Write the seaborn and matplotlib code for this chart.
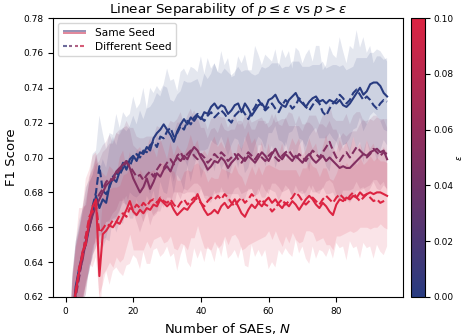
import numpy as np
import pandas as pd
import matplotlib
matplotlib.use("Agg")
import matplotlib.pyplot as plt
from matplotlib.colors import LinearSegmentedColormap, Normalize
from matplotlib.cm import ScalarMappable
from matplotlib.collections import LineCollection
from matplotlib.legend_handler import HandlerBase
from matplotlib.lines import Line2D
import seaborn as sns

# ---------------------------------------------------------------- data
n_saes = list(range(1, 96))
eps_levels = [0.0, 0.05, 0.10]

f1_same_eps000 = [
    0.560, 0.605, 0.626, 0.636, 0.645, 0.650, 0.660, 0.668, 0.678, 0.671,
    0.676, 0.674, 0.684, 0.688, 0.686, 0.692, 0.697, 0.693, 0.699, 0.701,
    0.698, 0.703, 0.702, 0.706, 0.704, 0.711, 0.714, 0.716, 0.719, 0.716,
    0.713, 0.709, 0.715, 0.719, 0.722, 0.719, 0.723, 0.721, 0.724, 0.722,
    0.726, 0.725, 0.729, 0.731, 0.728, 0.730, 0.729, 0.725, 0.727, 0.730,
    0.731, 0.726, 0.731, 0.728, 0.724, 0.727, 0.730, 0.731, 0.728, 0.733,
    0.734, 0.736, 0.732, 0.730, 0.729, 0.733, 0.735, 0.737, 0.733, 0.731,
    0.729, 0.732, 0.734, 0.735, 0.732, 0.733, 0.731, 0.733, 0.732, 0.731,
    0.733, 0.730, 0.729, 0.731, 0.734, 0.737, 0.740, 0.736, 0.738, 0.742,
    0.743, 0.743, 0.741, 0.737, 0.735]
f1_diff_eps000 = [
    0.555, 0.600, 0.623, 0.632, 0.644, 0.652, 0.662, 0.672, 0.680, 0.695,
    0.681, 0.679, 0.683, 0.689, 0.691, 0.690, 0.694, 0.698, 0.695, 0.700,
    0.702, 0.700, 0.704, 0.703, 0.707, 0.709, 0.706, 0.712, 0.711, 0.715,
    0.717, 0.712, 0.714, 0.718, 0.716, 0.721, 0.719, 0.723, 0.725, 0.723,
    0.721, 0.724, 0.726, 0.723, 0.725, 0.727, 0.725, 0.722, 0.720, 0.724,
    0.726, 0.728, 0.725, 0.722, 0.726, 0.729, 0.733, 0.730, 0.727, 0.729,
    0.731, 0.728, 0.726, 0.730, 0.733, 0.731, 0.728, 0.730, 0.734, 0.732,
    0.729, 0.727, 0.730, 0.733, 0.731, 0.726, 0.724, 0.728, 0.731, 0.733,
    0.736, 0.734, 0.731, 0.733, 0.737, 0.739, 0.736, 0.733, 0.735, 0.733,
    0.730, 0.728, 0.731, 0.733, 0.732]
f1_same_eps005 = [
    0.558, 0.603, 0.622, 0.634, 0.641, 0.652, 0.660, 0.667, 0.672, 0.676,
    0.680, 0.684, 0.686, 0.688, 0.692, 0.694, 0.696, 0.698, 0.694, 0.688,
    0.684, 0.680, 0.683, 0.688, 0.682, 0.686, 0.691, 0.689, 0.693, 0.695,
    0.692, 0.697, 0.700, 0.698, 0.701, 0.699, 0.703, 0.706, 0.704, 0.700,
    0.697, 0.693, 0.695, 0.698, 0.697, 0.700, 0.698, 0.694, 0.697, 0.699,
    0.702, 0.700, 0.698, 0.701, 0.699, 0.697, 0.700, 0.703, 0.701, 0.698,
    0.702, 0.705, 0.701, 0.699, 0.702, 0.700, 0.698, 0.701, 0.699, 0.697,
    0.700, 0.702, 0.699, 0.697, 0.699, 0.701, 0.698, 0.700, 0.698, 0.696,
    0.694, 0.695, 0.694, 0.694, 0.696, 0.698, 0.700, 0.702, 0.701, 0.703,
    0.704, 0.705, 0.703, 0.704, 0.699]
f1_diff_eps005 = [
    0.552, 0.598, 0.620, 0.631, 0.643, 0.655, 0.662, 0.669, 0.675, 0.679,
    0.682, 0.686, 0.688, 0.687, 0.690, 0.693, 0.695, 0.697, 0.695, 0.692,
    0.689, 0.690, 0.687, 0.690, 0.692, 0.689, 0.693, 0.696, 0.694, 0.697,
    0.699, 0.696, 0.701, 0.703, 0.699, 0.702, 0.704, 0.701, 0.699, 0.702,
    0.700, 0.697, 0.699, 0.702, 0.700, 0.703, 0.701, 0.698, 0.700, 0.702,
    0.699, 0.697, 0.700, 0.703, 0.701, 0.699, 0.702, 0.700, 0.698, 0.701,
    0.703, 0.700, 0.698, 0.701, 0.703, 0.704, 0.701, 0.699, 0.702, 0.700,
    0.698, 0.701, 0.704, 0.702, 0.700, 0.703, 0.706, 0.709, 0.704, 0.700,
    0.698, 0.701, 0.703, 0.700, 0.703, 0.706, 0.704, 0.702, 0.700, 0.702,
    0.705, 0.703, 0.701, 0.703, 0.702]
f1_same_eps010 = [
    0.560, 0.606, 0.624, 0.634, 0.646, 0.650, 0.664, 0.672, 0.676, 0.632,
    0.656, 0.658, 0.661, 0.660, 0.663, 0.662, 0.666, 0.670, 0.675, 0.669,
    0.667, 0.670, 0.668, 0.671, 0.670, 0.673, 0.672, 0.676, 0.674, 0.672,
    0.674, 0.670, 0.667, 0.669, 0.671, 0.670, 0.673, 0.675, 0.679, 0.674,
    0.670, 0.667, 0.668, 0.670, 0.668, 0.672, 0.674, 0.671, 0.673, 0.676,
    0.672, 0.668, 0.666, 0.670, 0.673, 0.671, 0.674, 0.672, 0.675, 0.677,
    0.674, 0.676, 0.673, 0.671, 0.674, 0.672, 0.675, 0.673, 0.670, 0.673,
    0.676, 0.678, 0.676, 0.673, 0.671, 0.674, 0.672, 0.669, 0.667, 0.673,
    0.676, 0.675, 0.677, 0.676, 0.678, 0.677, 0.680, 0.678, 0.679, 0.680,
    0.679, 0.680, 0.680, 0.679, 0.678]
f1_diff_eps010 = [
    0.555, 0.602, 0.621, 0.637, 0.643, 0.655, 0.666, 0.669, 0.673, 0.657,
    0.659, 0.662, 0.661, 0.664, 0.663, 0.667, 0.668, 0.666, 0.671, 0.670,
    0.673, 0.671, 0.674, 0.672, 0.675, 0.676, 0.674, 0.677, 0.675, 0.674,
    0.676, 0.673, 0.671, 0.674, 0.676, 0.673, 0.675, 0.677, 0.676, 0.674,
    0.672, 0.675, 0.677, 0.676, 0.678, 0.676, 0.679, 0.677, 0.674, 0.672,
    0.675, 0.677, 0.674, 0.676, 0.679, 0.677, 0.674, 0.676, 0.673, 0.672,
    0.669, 0.671, 0.674, 0.676, 0.673, 0.675, 0.677, 0.680, 0.678, 0.675,
    0.673, 0.675, 0.677, 0.675, 0.673, 0.676, 0.678, 0.676, 0.674, 0.677,
    0.679, 0.677, 0.675, 0.678, 0.680, 0.677, 0.675, 0.677, 0.679, 0.677,
    0.675, 0.676, 0.674, 0.675, 0.676]

# standard deviation across runs (shaded bands)
sd_same_eps000 = [
    0.030, 0.028, 0.026, 0.024, 0.025, 0.023, 0.026, 0.022, 0.024, 0.021,
    0.023, 0.020, 0.022, 0.024, 0.021, 0.023, 0.020, 0.022, 0.019, 0.023,
    0.021, 0.024, 0.020, 0.022, 0.025, 0.021, 0.023, 0.019, 0.022, 0.024,
    0.020, 0.023, 0.021, 0.019, 0.022, 0.024, 0.020, 0.023, 0.021, 0.018,
    0.022, 0.020, 0.019, 0.023, 0.021, 0.018, 0.022, 0.024, 0.020, 0.019,
    0.021, 0.023, 0.019, 0.022, 0.024, 0.020, 0.018, 0.021, 0.023, 0.019,
    0.020, 0.018, 0.022, 0.021, 0.023, 0.019, 0.020, 0.018, 0.022, 0.021,
    0.023, 0.020, 0.019, 0.018, 0.021, 0.022, 0.020, 0.019, 0.021, 0.022,
    0.019, 0.023, 0.021, 0.020, 0.018, 0.020, 0.017, 0.021, 0.019, 0.018,
    0.017, 0.019, 0.020, 0.021, 0.020]
sd_diff_eps000 = [
    0.034, 0.030, 0.028, 0.032, 0.026, 0.031, 0.025, 0.030, 0.024, 0.029,
    0.033, 0.026, 0.031, 0.024, 0.034, 0.027, 0.032, 0.025, 0.030, 0.035,
    0.026, 0.031, 0.036, 0.025, 0.033, 0.028, 0.035, 0.026, 0.031, 0.036,
    0.027, 0.033, 0.024, 0.031, 0.035, 0.026, 0.033, 0.028, 0.024, 0.035,
    0.027, 0.033, 0.025, 0.031, 0.024, 0.034, 0.028, 0.035, 0.026, 0.023,
    0.032, 0.026, 0.034, 0.028, 0.024, 0.035, 0.026, 0.023, 0.032, 0.028,
    0.024, 0.034, 0.026, 0.032, 0.024, 0.030, 0.023, 0.033, 0.027, 0.022,
    0.030, 0.035, 0.025, 0.031, 0.033, 0.024, 0.029, 0.036, 0.028, 0.024,
    0.033, 0.027, 0.023, 0.031, 0.025, 0.034, 0.027, 0.036, 0.025, 0.031,
    0.024, 0.030, 0.027, 0.023, 0.025]
sd_same_eps005 = [
    0.030, 0.028, 0.027, 0.025, 0.026, 0.024, 0.025, 0.023, 0.024, 0.022,
    0.023, 0.021, 0.022, 0.020, 0.022, 0.019, 0.021, 0.020, 0.022, 0.019,
    0.021, 0.023, 0.020, 0.018, 0.021, 0.019, 0.022, 0.020, 0.018, 0.021,
    0.019, 0.017, 0.020, 0.022, 0.019, 0.018, 0.020, 0.021, 0.019, 0.017,
    0.020, 0.018, 0.021, 0.019, 0.017, 0.020, 0.018, 0.021, 0.019, 0.017,
    0.019, 0.021, 0.018, 0.020, 0.017, 0.019, 0.021, 0.018, 0.020, 0.019,
    0.017, 0.020, 0.018, 0.019, 0.021, 0.018, 0.020, 0.017, 0.019, 0.018,
    0.020, 0.018, 0.019, 0.017, 0.020, 0.018, 0.019, 0.021, 0.018, 0.020,
    0.017, 0.019, 0.018, 0.020, 0.019, 0.017, 0.019, 0.020, 0.018, 0.019,
    0.017, 0.018, 0.019, 0.018, 0.018]
sd_diff_eps005 = [
    0.032, 0.030, 0.029, 0.027, 0.028, 0.026, 0.027, 0.025, 0.026, 0.024,
    0.025, 0.023, 0.025, 0.022, 0.024, 0.023, 0.021, 0.024, 0.022, 0.025,
    0.023, 0.021, 0.024, 0.022, 0.020, 0.023, 0.025, 0.021, 0.023, 0.020,
    0.022, 0.024, 0.021, 0.023, 0.020, 0.022, 0.024, 0.021, 0.023, 0.020,
    0.022, 0.019, 0.023, 0.021, 0.024, 0.020, 0.022, 0.019, 0.021, 0.023,
    0.020, 0.022, 0.024, 0.021, 0.019, 0.022, 0.020, 0.023, 0.021, 0.019,
    0.022, 0.020, 0.023, 0.021, 0.019, 0.022, 0.024, 0.020, 0.022, 0.019,
    0.021, 0.023, 0.020, 0.022, 0.019, 0.021, 0.020, 0.022, 0.019, 0.021,
    0.023, 0.020, 0.022, 0.019, 0.021, 0.020, 0.022, 0.019, 0.021, 0.020,
    0.019, 0.021, 0.020, 0.019, 0.020]
sd_same_eps010 = [
    0.028, 0.026, 0.025, 0.024, 0.026, 0.023, 0.025, 0.022, 0.024, 0.021,
    0.023, 0.022, 0.021, 0.023, 0.020, 0.022, 0.024, 0.021, 0.019, 0.022,
    0.020, 0.023, 0.021, 0.019, 0.022, 0.020, 0.018, 0.021, 0.023, 0.020,
    0.019, 0.022, 0.020, 0.018, 0.021, 0.023, 0.019, 0.021, 0.018, 0.020,
    0.022, 0.019, 0.021, 0.018, 0.020, 0.022, 0.019, 0.021, 0.018, 0.020,
    0.019, 0.021, 0.018, 0.020, 0.022, 0.019, 0.021, 0.018, 0.020, 0.019,
    0.021, 0.018, 0.020, 0.022, 0.019, 0.021, 0.018, 0.020, 0.019, 0.021,
    0.018, 0.020, 0.019, 0.021, 0.018, 0.020, 0.022, 0.019, 0.020, 0.018,
    0.021, 0.019, 0.020, 0.018, 0.021, 0.019, 0.020, 0.018, 0.019, 0.021,
    0.019, 0.020, 0.018, 0.019, 0.019]
sd_diff_eps010 = [
    0.034, 0.031, 0.030, 0.034, 0.028, 0.033, 0.027, 0.032, 0.030, 0.036,
    0.032, 0.027, 0.034, 0.029, 0.026, 0.033, 0.036, 0.028, 0.032, 0.026,
    0.031, 0.035, 0.028, 0.033, 0.036, 0.029, 0.026, 0.034, 0.030, 0.025,
    0.033, 0.028, 0.036, 0.030, 0.026, 0.033, 0.038, 0.029, 0.034, 0.027,
    0.032, 0.026, 0.031, 0.036, 0.028, 0.033, 0.026, 0.035, 0.030, 0.025,
    0.033, 0.028, 0.036, 0.039, 0.029, 0.034, 0.027, 0.033, 0.026, 0.036,
    0.029, 0.034, 0.027, 0.032, 0.025, 0.030, 0.034, 0.027, 0.033, 0.026,
    0.031, 0.036, 0.028, 0.033, 0.026, 0.030, 0.035, 0.028, 0.032, 0.026,
    0.031, 0.028, 0.034, 0.026, 0.032, 0.028, 0.033, 0.026, 0.031, 0.028,
    0.033, 0.026, 0.028, 0.031, 0.027]

seed_labels = ["Same Seed", "Different Seed"]

means = {
    (0.0, "Same Seed"): f1_same_eps000, (0.0, "Different Seed"): f1_diff_eps000,
    (0.05, "Same Seed"): f1_same_eps005, (0.05, "Different Seed"): f1_diff_eps005,
    (0.10, "Same Seed"): f1_same_eps010, (0.10, "Different Seed"): f1_diff_eps010,
}
spreads = {
    (0.0, "Same Seed"): sd_same_eps000, (0.0, "Different Seed"): sd_diff_eps000,
    (0.05, "Same Seed"): sd_same_eps005, (0.05, "Different Seed"): sd_diff_eps005,
    (0.10, "Same Seed"): sd_same_eps010, (0.10, "Different Seed"): sd_diff_eps010,
}

# ---------------------------------------------------------------- style
cmap = LinearSegmentedColormap.from_list("eps_map", ["#283b80", "#dc2442"])
norm = Normalize(vmin=0.0, vmax=0.10)

rows = []
for (eps, seed), vals in means.items():
    for n, v, s in zip(n_saes, vals, spreads[(eps, seed)]):
        rows.append({"N": n, "F1": v, "sd": s, "eps": eps, "seed": seed})
df = pd.DataFrame(rows)

fig = plt.figure(figsize=(4.64, 3.36), dpi=100)
ax = fig.add_axes([53 / 464, 1 - 297 / 336, 350 / 464, 279 / 336])
cax = fig.add_axes([411 / 464, 1 - 297 / 336, 14 / 464, 279 / 336])

# shaded +/- one standard deviation
for (eps, seed), grp in df.groupby(["eps", "seed"], sort=False):
    ax.fill_between(grp["N"], grp["F1"] - grp["sd"], grp["F1"] + grp["sd"],
                    color=cmap(norm(eps)), alpha=0.12, lw=0, zorder=1)

palette = {eps: cmap(norm(eps)) for eps in eps_levels}
sns.lineplot(data=df, x="N", y="F1", hue="eps", style="seed",
             hue_order=eps_levels, style_order=seed_labels,
             palette=palette, dashes={"Same Seed": "", "Different Seed": (3.7, 1.6)},
             linewidth=1.5, legend=False, ax=ax, zorder=3)

ax.set_ylim(0.62, 0.78)
ax.set_xlim(-3.7, 99.7)
ax.set_xticks([0, 20, 40, 60, 80])
ax.tick_params(labelsize=6.5)
ax.set_xlabel("Number of SAEs, $N$", fontsize=9.5)
ax.set_ylabel("F1 Score", fontsize=9.5)
ax.set_title(r"Linear Separability of $p \leq \varepsilon$ vs $p > \varepsilon$",
             fontsize=9.7, pad=3)


class GradientHandle(HandlerBase):
    """Legend key drawn with colours taken along the epsilon colormap."""

    def __init__(self, dashed):
        super().__init__()
        self.dashed = dashed

    def create_artists(self, legend, orig_handle, xdescent, ydescent,
                       width, height, fontsize, trans):
        y = height / 2 - ydescent
        x0 = -xdescent
        if self.dashed:
            k = 4
            step = width / k
            segs = [[(x0 + i * step, y), (x0 + i * step + step * 0.62, y)] for i in range(k)]
            cols = [cmap(0.1 + 0.8 * i / (k - 1)) for i in range(k)]
            lc = LineCollection(segs, colors=cols, linewidths=1.5, alpha=0.75,
                                transform=trans)
            return [lc]
        segs = [[(x0, y + 0.8), (x0 + width, y + 0.8)],
                [(x0, y - 0.8), (x0 + width, y - 0.8)]]
        cols = [cmap(0.15), cmap(0.9)]
        lc = LineCollection(segs, colors=cols, linewidths=1.1, alpha=0.7,
                            transform=trans)
        return [lc]


h_same = Line2D([], [])
h_diff = Line2D([], [])
ax.legend([h_same, h_diff], seed_labels, loc="upper left", fontsize=7.6,
          handler_map={h_same: GradientHandle(False), h_diff: GradientHandle(True)},
          handlelength=2.2, borderpad=0.45, labelspacing=0.35)

sm = ScalarMappable(norm=norm, cmap=cmap)
cb = fig.colorbar(sm, cax=cax)
cb.ax.tick_params(labelsize=6.5, pad=2.5)
cb.set_label(r"$\varepsilon$", fontsize=6, labelpad=1)

fig.savefig("out.png", dpi=100)
